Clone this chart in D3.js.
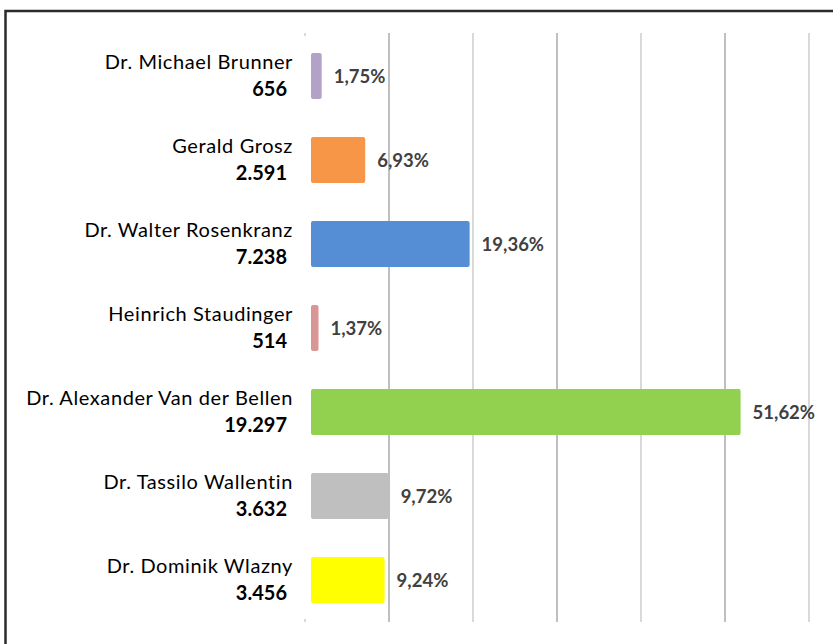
<!DOCTYPE html>
<html>
<head>
<meta charset="utf-8">
<script src="https://cdn.jsdelivr.net/npm/d3@7"></script>
<style>
  body { margin: 0; background: #fff; }
  svg text { font-family: Lato, "Open Sans", sans-serif; }
</style>
</head>
<body>
<svg id="chart" width="833" height="644"></svg>
<script>
// candidates, top to bottom
var candidates = ["Dr. Michael Brunner", "Gerald Grosz", "Dr. Walter Rosenkranz",
                  "Heinrich Staudinger", "Dr. Alexander Van der Bellen",
                  "Dr. Tassilo Wallentin", "Dr. Dominik Wlazny"];
var votes = [656, 2591, 7238, 514, 19297, 3632, 3456];
var percent = [1.75, 6.93, 19.36, 1.37, 51.62, 9.72, 9.24];
var barColors = ["#b3a2c7", "#f79646", "#558ed5", "#d99694", "#92d050", "#bfbfbf", "#ffff00"];
var gridTicks = [0, 10, 20, 30, 40, 50, 60];

var width = 833, height = 644;

var locale = d3.formatLocale({ decimal: ",", thousands: ".", grouping: [3], currency: ["", "€"] });
var fmtVotes = locale.format(",d");
var fmtPct = locale.format(".2f");

var svg = d3.select("#chart");

var x = d3.scaleLinear().domain([0, 60]).range([305, 809]);
var y = d3.scaleBand().domain(candidates).range([34, 622]).paddingInner(0.45).paddingOuter(0.225);

// frame (only left and top visible)
svg.append("path")
   .attr("d", "M5.5," + (height + 5) + "V11H" + (width + 5))
   .attr("fill", "none")
   .attr("stroke", "#2b2b2b")
   .attr("stroke-width", 2.5);

// vertical gridlines
svg.append("g").selectAll("line")
   .data(gridTicks.slice(1))
   .enter().append("line")
   .attr("x1", function(d) { return x(d); })
   .attr("x2", function(d) { return x(d); })
   .attr("y1", 33)
   .attr("y2", 622)
   .attr("stroke", function(d, i) { return i % 2 == 0 ? "#bfbfbf" : "#d9d9d9"; })
   .attr("stroke-width", 2);

// little stubs where the zero line would be
svg.append("g").selectAll("line")
   .data([[33, 36], [619, 622]])
   .enter().append("line")
   .attr("x1", x(0)).attr("x2", x(0))
   .attr("y1", function(d) { return d[0]; })
   .attr("y2", function(d) { return d[1]; })
   .attr("stroke", "#d9d9d9")
   .attr("stroke-width", 2);

var rows = svg.append("g").selectAll("g")
   .data(candidates)
   .enter().append("g");

// bars
rows.append("rect")
   .attr("x", x(0) + 6)
   .attr("y", function(d) { return y(d); })
   .attr("width", function(d, i) { return x(percent[i]) + 2 - (x(0) + 6); })
   .attr("height", y.bandwidth())
   .attr("rx", 2)
   .attr("fill", function(d, i) { return barColors[i]; });

// data labels
rows.append("text")
   .attr("x", function(d, i) { return x(percent[i]) + 14; })
   .attr("y", function(d) { return y(d) + y.bandwidth() / 2 + 7; })
   .attr("font-size", "18.5px")
   .attr("font-weight", "bold")
   .attr("fill", "#404040")
   .text(function(d, i) { return fmtPct(percent[i]) + "%"; });

// category labels: name + votes
rows.append("text")
   .attr("x", 293)
   .attr("y", function(d) { return y(d) + y.bandwidth() / 2 - 7; })
   .attr("text-anchor", "end")
   .attr("font-size", "20px")
   .attr("letter-spacing", "0.6px")
   .attr("fill", "#000")
   .text(function(d) { return d; });

rows.append("text")
   .attr("x", 287)
   .attr("y", function(d) { return y(d) + y.bandwidth() / 2 + 19.5; })
   .attr("text-anchor", "end")
   .attr("font-size", "20px")
   .attr("font-weight", "bold")
   .attr("fill", "#000")
   .text(function(d, i) { return fmtVotes(votes[i]); });
</script>
</body>
</html>
